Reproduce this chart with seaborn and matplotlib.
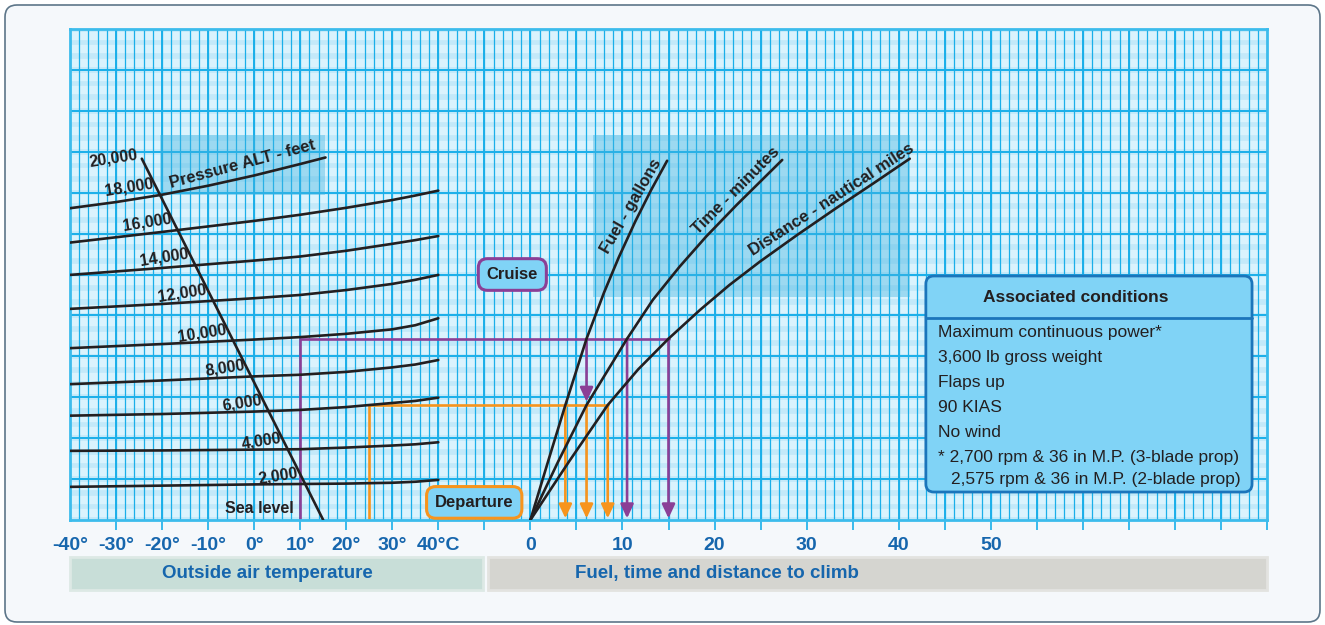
import numpy as np
import seaborn as sns
import matplotlib.pyplot as plt
from matplotlib.patches import FancyBboxPatch, Rectangle
from matplotlib.transforms import IdentityTransform

# ---- data ---------------------------------------------------------------
# vertical position is in "grid rows" (0 = bottom edge, 12 = top edge)
oat_points = [-40, -20, 0, 10, 20, 30, 35, 40]
alt_names = ["2,000", "4,000", "6,000", "8,000", "10,000", "12,000", "14,000", "16,000"]
alt_2000 = [0.81, 0.84, 0.87, 0.88, 0.89, 0.91, 0.935, 0.98]
alt_4000 = [1.69, 1.70, 1.72, 1.73, 1.77, 1.82, 1.85, 1.90]
alt_6000 = [2.55, 2.59, 2.65, 2.69, 2.76, 2.86, 2.91, 2.99]
alt_8000 = [3.32, 3.41, 3.51, 3.55, 3.62, 3.73, 3.80, 3.91]
alt_10000 = [4.20, 4.30, 4.41, 4.47, 4.55, 4.66, 4.76, 4.93]
alt_12000 = [5.16, 5.28, 5.42, 5.50, 5.62, 5.77, 5.87, 5.99]
alt_14000 = [5.99, 6.16, 6.34, 6.44, 6.58, 6.75, 6.84, 6.94]
alt_16000 = [6.78, 7.04, 7.31, 7.46, 7.63, 7.82, 7.93, 8.05]
alt_18000_oat = [-40, -30, -20, -10, 0, 10, 15.5]
alt_18000 = [7.62, 7.77, 7.95, 8.17, 8.42, 8.70, 8.86]

# standard temperature line (sea level -> 20,000 ft)
isa_oat = [15, -24.4]
isa_row = [0, 8.83]

# climb curves: x in gallons / minutes / nautical miles
fuel_x = [0, 2.0, 3.8, 6.1, 8.0, 9.6, 11.4, 13.1, 14.85]
fuel_y = [0, 1.49, 2.81, 4.43, 5.56, 6.42, 7.30, 8.06, 8.78]
time_x = [0, 3.0, 6.1, 10.5, 13.3, 16.2, 19.1, 22.4, 27.35]
time_y = [0, 1.42, 2.81, 4.43, 5.38, 6.19, 6.93, 7.70, 8.80]
dist_x = [0, 4.2, 8.4, 11.7, 15.0, 18.4, 21.6, 24.9, 29.0, 33.2, 37.2, 41.2]
dist_y = [0, 1.43, 2.81, 3.68, 4.43, 5.13, 5.74, 6.31, 6.97, 7.62, 8.22, 8.83]

# worked example
cruise_oat, cruise_row = 10, 4.43
cruise_vals = [6.1, 10.5, 15.0]      # fuel, time, distance
departure_oat, departure_row = 25, 2.81
departure_vals = [3.8, 6.1, 8.4]

oat_ticks = [-40, -30, -20, -10, 0, 10, 20, 30, 40]
oat_tick_labels = ["-40°", "-30°", "-20°", "-10°", "0°", "10°", "20°", "30°", "40°C"]
climb_ticks = [0, 10, 20, 30, 40, 50]

conditions = ["Maximum continuous power*", "3,600 lb gross weight", "Flaps up",
              "90 KIAS", "No wind"]
footnote = ["* 2,700 rpm & 36 in M.P. (3-blade prop)",
            "2,575 rpm & 36 in M.P. (2-blade prop)"]


def oat_to_x(t):
    # temperature scale shares the bottom axis: 10 degC = 5 climb units
    return np.asarray(t, dtype=float) / 2 - 30


# ---- style ----------------------------------------------------------------
sns.set_theme(style="white")
plt.rcParams["font.family"] = ["Liberation Sans", "DejaVu Sans"]

INK = "#231f20"
GRID = "#1aafe9"
PURPLE = "#8b3f96"
ORANGE = "#f7941d"
BOXFILL = "#80d3f6"
LABEL_BLUE = "#1666ad"
CURVE_LW = 1.9

fig = plt.figure(figsize=(13.25, 6.25), dpi=100)
fig.patch.set_facecolor("white")
frame = FancyBboxPatch((5, 3), 1315, 617, boxstyle="round,pad=0,rounding_size=12",
                       transform=IdentityTransform(), fc="#f5f8fb", ec="#5d7689",
                       lw=1.2, zorder=-5)
fig.add_artist(frame)

ax = fig.add_axes([70 / 1325, 105 / 625, 1197 / 1325, 491 / 625])
ax.set_xlim(-50, 80)
ax.set_ylim(0, 12)
ax.set_facecolor("#c3e9f9")

# graph paper
for k in range(12):
    for j in range(3):
        ax.axhline(k + (2 * j + 1) / 6, color="#daf3fd", lw=6, zorder=0.2)
ax.vlines(np.arange(-49, 80), 0, 12, colors=GRID, lw=0.9, zorder=0.5)
ax.vlines(np.arange(-45, 80, 5), 0, 12, colors=GRID, lw=1.4, zorder=0.6)
ax.hlines(np.arange(1, 12), -50, 80, colors=GRID, lw=1.4, zorder=0.6)
for s in ax.spines.values():
    s.set_color("#3cbcec")
    s.set_linewidth(2)

# blurred label backgrounds
for (x0, y0, w, h) in [(0.075, 0.662, 0.138, 0.122), (0.437, 0.454, 0.265, 0.330)]:
    ax.add_patch(Rectangle((x0, y0), w, h, transform=ax.transAxes,
                           fc="#3fb3e0", alpha=0.4, lw=0, zorder=1))

# ---- pressure altitude curves -------------------------------------------
alt_curves = [alt_2000, alt_4000, alt_6000, alt_8000, alt_10000,
              alt_12000, alt_14000, alt_16000]
for rows in alt_curves:
    sns.lineplot(x=oat_to_x(oat_points), y=rows, ax=ax, color=INK, lw=CURVE_LW,
                 sort=False, estimator=None, zorder=3)
sns.lineplot(x=oat_to_x(alt_18000_oat), y=alt_18000, ax=ax, color=INK, lw=CURVE_LW,
             sort=False, estimator=None, zorder=3)
sns.lineplot(x=oat_to_x(isa_oat), y=isa_row, ax=ax, color=INK, lw=CURVE_LW,
             sort=False, estimator=None, zorder=3)


def isa_crossing(oats, rows):
    t = 0.0
    r = rows[0]
    for _ in range(4):
        r = np.interp(t, oats, rows)
        t = np.interp(r, isa_row, isa_oat)
    return float(oat_to_x(t)), float(r)


lab_kw = dict(textcoords="offset points", ha="right", va="bottom", fontsize=11.5,
              fontweight="bold", color=INK, rotation=9, rotation_mode="anchor",
              zorder=6)
for name, rows in zip(alt_names + ["18,000"], alt_curves + [alt_18000]):
    oats = alt_18000_oat if name == "18,000" else oat_points
    ax.annotate(name, isa_crossing(oats, rows), xytext=(-4, 3), **lab_kw)
ax.annotate("20,000", (float(oat_to_x(isa_oat[1])), isa_row[1]), xytext=(-2, -2),
            **lab_kw)
ax.annotate("Sea level", (float(oat_to_x(isa_oat[0])), 0), xytext=(-21, 3),
            textcoords="offset points", ha="right", va="bottom", fontsize=11.5,
            fontweight="bold", color=INK, zorder=6)
ax.annotate("Pressure ALT - feet",
            (float(oat_to_x(-18.5)), float(np.interp(-18.5, alt_18000_oat, alt_18000))),
            xytext=(2, 2), textcoords="offset points", ha="left", va="bottom",
            rotation=15, rotation_mode="anchor", fontsize=12, fontweight="bold",
            color=INK, zorder=6)

# ---- climb curves -------------------------------------------------------
for cx, cy in [(fuel_x, fuel_y), (time_x, time_y), (dist_x, dist_y)]:
    sns.lineplot(x=cx, y=cy, ax=ax, color=INK, lw=CURVE_LW, sort=False,
                 estimator=None, zorder=3)

for text, cx, cy, row, ang in [("Fuel - gallons", fuel_x, fuel_y, 7.54, 60),
                               ("Time - minutes", time_x, time_y, 7.87, 45),
                               ("Distance - nautical miles", dist_x, dist_y, 7.63, 33)]:
    px = float(np.interp(row, cy, cx))
    a = np.deg2rad(ang)
    ax.annotate(text, (px, row), xytext=(-2 * np.sin(a), 2 * np.cos(a)),
                textcoords="offset points", ha="center", va="bottom",
                rotation=ang, rotation_mode="anchor", fontsize=12,
                fontweight="bold", color=INK, zorder=6)

# ---- worked example -----------------------------------------------------
for oat, row, vals, col in [(cruise_oat, cruise_row, cruise_vals, PURPLE),
                            (departure_oat, departure_row, departure_vals, ORANGE)]:
    x0 = float(oat_to_x(oat))
    sns.lineplot(x=[x0, x0, vals[2]], y=[0, row, row], ax=ax, color=col, lw=1.9,
                 sort=False, estimator=None, zorder=2.5)
arrow = dict(arrowstyle="-|>,head_length=0.6,head_width=0.28", lw=1.9,
             mutation_scale=14, shrinkA=0, shrinkB=0)
for v in departure_vals:
    ax.annotate("", xy=(v, 0.04), xytext=(v, departure_row),
                arrowprops=dict(arrow, color=ORANGE), zorder=2.6)
for i, v in enumerate(cruise_vals):
    end = departure_row + 0.08 if i == 0 else 0.04
    ax.annotate("", xy=(v, end), xytext=(v, cruise_row),
                arrowprops=dict(arrow, color=PURPLE), zorder=2.6)

box_kw = dict(ha="center", va="center", fontsize=12, fontweight="bold", color=INK,
              zorder=7)
ax.text(-1.96, 6.0, "Cruise", bbox=dict(boxstyle="round,pad=0.5,rounding_size=0.55",
                                        fc=BOXFILL, ec=PURPLE, lw=2.2), **box_kw)
ax.text(-6.1, 0.43, "Departure", bbox=dict(boxstyle="round,pad=0.5,rounding_size=0.55",
                                           fc=BOXFILL, ec=ORANGE, lw=2.2), **box_kw)

# ---- associated conditions box ------------------------------------------
cbox = FancyBboxPatch((0.715, 0.057), 0.2725, 0.44,
                      boxstyle="round,pad=0,rounding_size=0.0067",
                      mutation_aspect=2.44, transform=ax.transAxes,
                      fc=BOXFILL, ec="#1b75bb", lw=2, zorder=7)
ax.add_patch(cbox)
ax.plot([0.715, 0.9875], [0.411, 0.411], transform=ax.transAxes, color="#1b75bb",
        lw=2, zorder=8)
ax.text(0.840, 0.454, "Associated conditions", transform=ax.transAxes, ha="center",
        va="center", fontsize=12.5, fontweight="bold", color=INK, zorder=8)
for i, line in enumerate(conditions):
    ax.text(0.725, 0.381 - 0.0505 * i, line, transform=ax.transAxes, ha="left",
            va="center", fontsize=12.5, color=INK, zorder=8)
ax.text(0.725, 0.128, footnote[0], transform=ax.transAxes, ha="left", va="center",
        fontsize=12.5, color=INK, zorder=8)
ax.text(0.736, 0.083, footnote[1], transform=ax.transAxes, ha="left", va="center",
        fontsize=12.5, color=INK, zorder=8)

# ---- bottom axis --------------------------------------------------------
tick_pos = np.arange(-50, 81, 5)
tick_text = []
for p in tick_pos:
    lab = ""
    for t, s in zip(oat_ticks, oat_tick_labels):
        if np.isclose(oat_to_x(t), p):
            lab = s
    for c in climb_ticks:
        if np.isclose(c, p):
            lab = str(c)
    tick_text.append(lab)
ax.set_xticks(tick_pos, tick_text, fontweight="bold")
ax.tick_params(axis="x", bottom=True, direction="out", length=7.5, width=1.2,
               color=GRID, pad=5, labelsize=14, labelcolor=LABEL_BLUE)
ax.xaxis.get_major_ticks()[0].tick1line.set_visible(False)
ax.set_yticks([])
ax.set_xlabel("")
ax.set_ylabel("")

bx = ax.get_xaxis_transform()
ax.add_patch(Rectangle((-50, -0.1426), 44.9, 0.0672, transform=bx, clip_on=False,
                       fc="#c8ded8", ec="#dde9e5", lw=2))
ax.add_patch(Rectangle((-4.6, -0.1426), 84.6, 0.0672, transform=bx, clip_on=False,
                       fc="#d5d5d0", ec="#e3e3e0", lw=2))
ax.text(-28.6, -0.108, "Outside air temperature", transform=bx, ha="center",
        va="center", fontsize=13.5, fontweight="bold", color=LABEL_BLUE)
ax.text(20.3, -0.108, "Fuel, time and distance to climb", transform=bx,
        ha="center", va="center", fontsize=13.5, fontweight="bold", color=LABEL_BLUE)

fig.savefig("out.png", dpi=100)
